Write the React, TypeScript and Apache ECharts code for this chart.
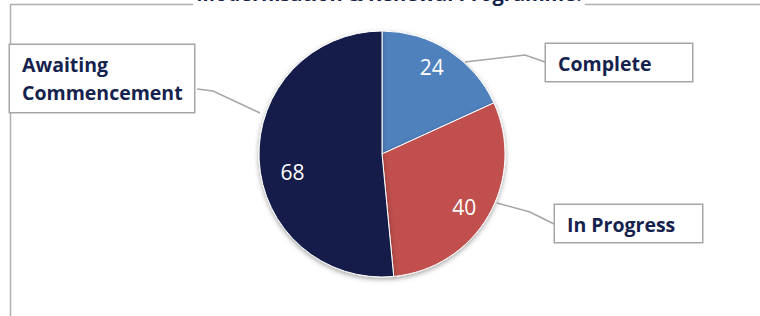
import React, { useEffect, useRef } from "react";
import * as echarts from "echarts";

const titleText = "Modernisation & Renewal Programme.";
const categories = ["Complete", "In Progress", "Awaiting Commencement"];
const values = [24, 40, 68];
const colors = ["#4F81BD", "#C0504D", "#121F48"];

const navy = "#15224D";
const boxLayouts = [
  { x: 546, y: 44, w: 148, h: 37, line: [[465, 62], [525, 55], [545, 62]] },
  { x: 555, y: 205, w: 149, h: 37, line: [[497, 203], [530, 212], [554, 224]] },
  { x: 10, y: 45, w: 186, h: 67, line: [[260, 113], [213, 91], [197, 89]] },
];
const valueNudges = [
  { dx: -4, dy: -3 },
  { dx: -4, dy: 3 },
  { dx: 10, dy: 13 },
];

export default function App() {
  const ref = useRef<HTMLDivElement>(null);
  useEffect(() => {
    if (!ref.current) return;
    const chart = echarts.init(ref.current, null, { renderer: "svg" });
    const labelFont = {
      fontFamily: "Open Sans",
      fontWeight: "bold" as const,
      fontSize: 19.5,
      color: navy,
    };
    const mainData = categories.map((name, i) => ({
      name,
      value: values[i],
      itemStyle: { color: colors[i] },
      label: {
        width: boxLayouts[i].w - 14,
        lineHeight: 28,
        padding: i === 2 ? [5, 0, 6, 12] : [5, 0, 4, 12],
      },
    }));
    chart.setOption({
      animation: false,
      graphic: [
        {
          type: "line",
          shape: { x1: 10, y1: 4.5, x2: 760, y2: 4.5 },
          style: { stroke: "#AFAFAF", lineWidth: 1.5 },
          z: 1,
        },
        {
          type: "line",
          shape: { x1: 10.5, y1: 4.5, x2: 10.5, y2: 316 },
          style: { stroke: "#AFAFAF", lineWidth: 1.5 },
          z: 1,
        },
        {
          type: "text",
          x: 389,
          y: -17,
          z: 10,
          style: {
            text: titleText,
            align: "center",
            verticalAlign: "top",
            fontFamily: "Open Sans",
            fontWeight: "bold",
            fontSize: 20,
            fill: navy,
            backgroundColor: "#fff",
            padding: [0, 3, 4, 3],
          },
        },
      ],
      series: [
        {
          type: "pie",
          center: [382, 154],
          radius: 123,
          startAngle: 90,
          clockwise: true,
          silent: true,
          itemStyle: {
            borderColor: "#ffffff",
            borderWidth: 1,
            shadowBlur: 5,
            shadowColor: "rgba(0,0,0,0.35)",
            shadowOffsetY: 2,
          },
          data: mainData,
          label: {
            show: true,
            position: "outside",
            formatter: "{b}",
            overflow: "break",
            backgroundColor: "#ffffff",
            borderColor: "#A6A6A6",
            borderWidth: 1.5,
            ...labelFont,
          },
          labelLine: {
            show: true,
            lineStyle: { color: "#A6A6A6", width: 1.5 },
          },
          labelLayout: (p: any) => {
            const b = boxLayouts[p.dataIndex];
            return {
              x: b.x,
              y: b.y,
              align: "left",
              verticalAlign: "top",
              labelLinePoints: b.line,
            };
          },
        },
        {
          type: "pie",
          center: [382, 154],
          radius: [70, 123],
          startAngle: 90,
          clockwise: true,
          silent: true,
          itemStyle: { color: "rgba(0,0,0,0)" },
          data: categories.map((name, i) => ({ name, value: values[i] })),
          label: {
            show: true,
            position: "inside",
            formatter: "{c}",
            color: "#ffffff",
            fontFamily: "Open Sans",
            fontSize: 21,
          },
          labelLine: { show: false },
          labelLayout: (p: any) => valueNudges[p.dataIndex],
        },
      ],
    });
    return () => chart.dispose();
  }, []);
  return (
    <div
      ref={ref}
      style={{ position: "absolute", left: 0, top: 0, width: 760, height: 316 }}
    />
  );
}
